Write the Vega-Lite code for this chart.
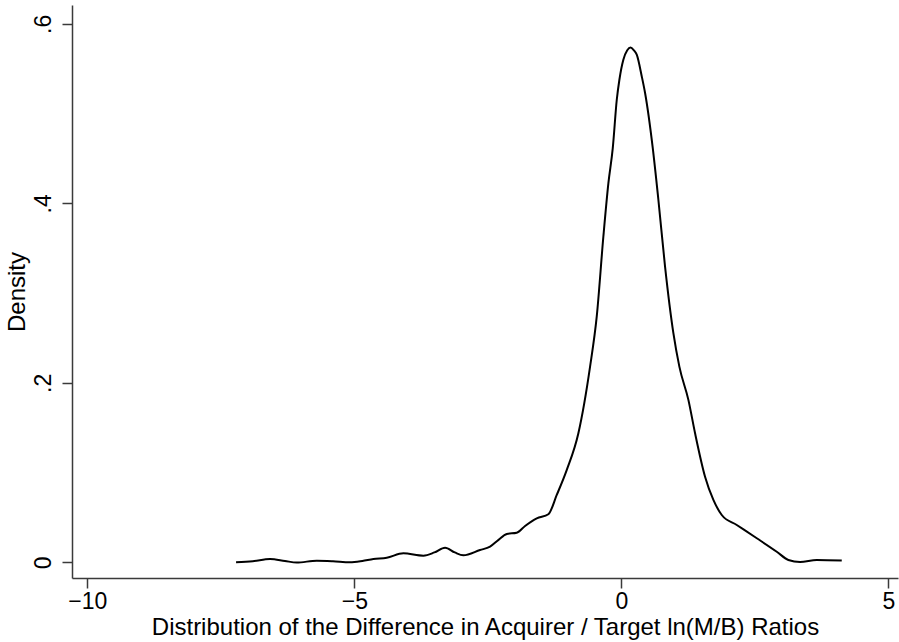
{
  "$schema": "https://vega.github.io/schema/vega-lite/v6.json",
  "autosize": "none",
  "width": 826,
  "height": 573,
  "padding": {"left": 72, "top": 5, "right": 1, "bottom": 64},
  "background": "white",
  "config": {
    "view": {"stroke": null},
    "axis": {
      "labelFont": "Liberation Sans",
      "titleFont": "Liberation Sans",
      "labelFontSize": 23,
      "titleFontSize": 24,
      "titleFontWeight": "normal",
      "labelColor": "black",
      "titleColor": "black",
      "domainColor": "#3a3a3a",
      "domainWidth": 1.5,
      "tickColor": "#3a3a3a",
      "tickWidth": 1.5,
      "tickSize": 10,
      "grid": false
    }
  },
  "data": {
    "values": [
      {"x": -7.215, "d": 0.0},
      {"x": -6.9, "d": 0.0012},
      {"x": -6.579, "d": 0.0037},
      {"x": -6.3, "d": 0.0015},
      {"x": -6.079, "d": -0.0003},
      {"x": -5.704, "d": 0.0018},
      {"x": -5.4, "d": 0.0012},
      {"x": -5.081, "d": 0.0},
      {"x": -4.85, "d": 0.0015},
      {"x": -4.644, "d": 0.0037},
      {"x": -4.393, "d": 0.0051},
      {"x": -4.082, "d": 0.010},
      {"x": -3.708, "d": 0.0074},
      {"x": -3.5, "d": 0.011},
      {"x": -3.301, "d": 0.0163},
      {"x": -3.12, "d": 0.011},
      {"x": -2.959, "d": 0.0078},
      {"x": -2.646, "d": 0.0137},
      {"x": -2.459, "d": 0.0174},
      {"x": -2.3, "d": 0.025},
      {"x": -2.146, "d": 0.0316},
      {"x": -1.959, "d": 0.033},
      {"x": -1.803, "d": 0.0405},
      {"x": -1.584, "d": 0.049},
      {"x": -1.367, "d": 0.0535},
      {"x": -1.21, "d": 0.075},
      {"x": -1.022, "d": 0.103},
      {"x": -0.805, "d": 0.1438},
      {"x": -0.586, "d": 0.218},
      {"x": -0.461, "d": 0.274},
      {"x": -0.337, "d": 0.363},
      {"x": -0.243, "d": 0.4225},
      {"x": -0.161, "d": 0.4615},
      {"x": -0.086, "d": 0.5154},
      {"x": -0.037, "d": 0.5377},
      {"x": 0.037, "d": 0.56},
      {"x": 0.11, "d": 0.5705},
      {"x": 0.172, "d": 0.5737},
      {"x": 0.235, "d": 0.5705},
      {"x": 0.288, "d": 0.5656},
      {"x": 0.382, "d": 0.5414},
      {"x": 0.444, "d": 0.5229},
      {"x": 0.588, "d": 0.4615},
      {"x": 0.693, "d": 0.404},
      {"x": 0.818, "d": 0.3295},
      {"x": 0.974, "d": 0.2553},
      {"x": 1.086, "d": 0.218},
      {"x": 1.255, "d": 0.181},
      {"x": 1.38, "d": 0.1438},
      {"x": 1.567, "d": 0.0954},
      {"x": 1.723, "d": 0.0695},
      {"x": 1.88, "d": 0.0527},
      {"x": 2.161, "d": 0.0416},
      {"x": 2.536, "d": 0.0268},
      {"x": 2.91, "d": 0.0118},
      {"x": 3.127, "d": 0.0026},
      {"x": 3.346, "d": 0.0003},
      {"x": 3.659, "d": 0.0026},
      {"x": 4.127, "d": 0.002}
    ]
  },
  "mark": {"type": "line", "color": "black", "strokeWidth": 2, "interpolate": "monotone", "clip": true},
  "encoding": {
    "x": {
      "field": "x",
      "type": "quantitative",
      "scale": {"domain": [-10.287, 5.18], "nice": false, "zero": false},
      "axis": {
        "values": [-10, -5, 0, 5],
        "title": "Distribution of the Difference in Acquirer / Target ln(M/B) Ratios",
        "labelPadding": 2,
        "titlePadding": 2,
        "labelFlush": false
      }
    },
    "y": {
      "field": "d",
      "type": "quantitative",
      "scale": {"domain": [-0.0175, 0.621], "nice": false, "zero": false},
      "axis": {
        "values": [0, 0.2, 0.4, 0.6],
        "labelExpr": "datum.value == 0 ? '0' : '.' + round(datum.value * 10)",
        "labelAngle": -90,
        "labelAlign": "center",
        "labelBaseline": "bottom",
        "labelPadding": 7,
        "title": "Density",
        "titlePadding": 3,
        "labelFlush": false
      }
    }
  }
}
